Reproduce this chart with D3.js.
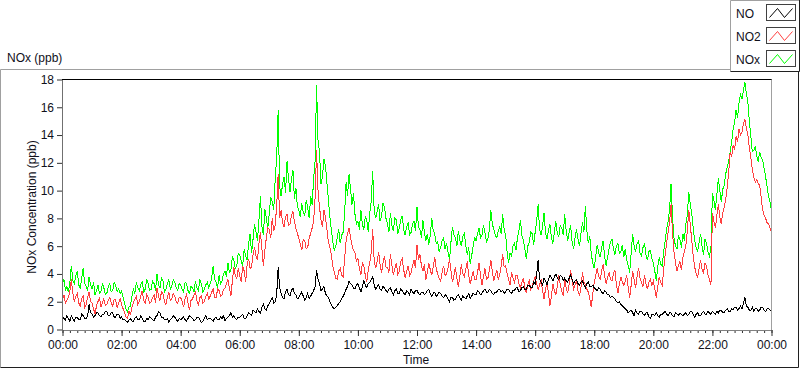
<!DOCTYPE html>
<html><head><meta charset="utf-8">
<script src="https://cdn.jsdelivr.net/npm/d3@7/dist/d3.min.js"></script>
<style>
body{margin:0;background:#fff;}
text{font-family:"Liberation Sans",Arial,sans-serif;}
</style>
</head><body>
<svg id="chart" width="800" height="369"></svg>
<script>
// ---- data (3-minute samples, 00:00 .. 24:00; one row per hour) ----
const sampleMinutes = 3;
const seriesNames = ["NO", "NO2", "NOx"];
const NO = [
0.9,0.8,0.7,1.0,0.8,0.6,1.0,0.8,0.6,0.9,0.9,0.7,0.7,1.1,1.0,0.8,0.8,1.0,1.8,1.2,
1.1,0.9,1.0,1.2,1.2,1.0,0.9,1.1,1.1,1.3,1.3,1.0,1.0,1.2,1.2,0.9,0.9,1.1,1.1,0.8,
0.9,0.7,0.7,0.6,0.5,0.7,0.8,0.6,0.6,0.8,0.9,0.7,0.7,1.0,0.8,0.6,0.6,0.8,0.7,0.9,
0.8,0.7,0.6,0.9,1.0,1.3,1.2,0.9,0.9,0.7,0.7,0.8,0.5,0.7,0.8,1.0,0.9,0.7,0.6,0.8,
0.7,0.8,0.9,0.7,0.6,0.8,1.0,0.9,0.8,0.6,0.7,0.9,0.9,0.7,0.5,0.6,0.8,1.0,0.7,0.8,
0.8,0.7,0.6,0.8,0.9,0.7,0.7,0.9,0.8,1.0,0.6,0.8,0.9,1.0,1.2,0.9,1.0,0.8,0.7,0.9,
0.9,1.0,1.1,0.8,0.8,1.0,1.2,1.1,1.0,1.4,1.3,1.2,1.5,1.3,1.2,1.6,1.8,1.5,1.4,1.7,
1.9,2.1,2.3,1.9,2.0,2.5,4.5,3.0,2.6,2.3,2.2,2.7,2.9,2.5,2.4,2.8,3.0,2.6,2.5,2.2,
2.3,2.5,2.7,2.4,2.1,2.3,2.6,2.2,2.4,2.6,2.8,3.1,4.3,3.6,3.3,2.8,2.9,3.1,2.6,2.4,
2.3,2.0,1.8,1.6,1.5,1.6,1.7,1.9,2.0,2.2,2.4,2.6,2.9,3.1,3.5,3.3,3.2,3.0,2.9,3.2,
3.3,3.0,2.7,3.1,3.5,3.2,3.0,3.3,3.4,3.6,3.8,3.2,2.9,3.1,3.2,2.9,2.8,3.1,3.0,2.8,
2.7,2.9,3.0,2.7,2.5,2.8,2.9,2.6,2.6,2.9,2.8,2.6,2.5,2.8,2.7,2.5,2.9,2.7,2.6,2.8,
2.8,2.6,2.5,2.7,2.7,2.5,2.6,2.8,2.9,2.6,2.4,2.6,2.7,2.4,2.5,2.7,2.6,2.4,2.3,2.5,
2.4,2.2,2.0,2.3,2.3,2.1,2.2,2.4,2.5,2.3,2.1,2.4,2.3,2.2,2.4,2.6,2.2,2.4,2.6,2.5,
2.5,2.8,2.7,2.5,2.6,2.8,2.9,2.7,2.7,2.9,2.8,2.6,2.5,2.7,2.7,2.9,2.9,2.7,2.8,2.6,
2.7,2.9,2.9,2.7,2.6,2.8,2.8,3.0,3.0,2.7,2.8,3.0,3.1,2.9,2.9,3.2,3.2,3.0,3.0,3.4,
3.3,3.9,5.0,3.6,3.4,3.2,3.7,3.5,3.2,3.6,3.9,3.7,3.5,3.8,4.0,3.7,3.6,3.9,3.8,3.5,
3.7,3.5,3.4,3.7,3.9,3.6,3.3,3.5,3.6,3.3,3.2,3.4,3.5,3.2,3.0,3.3,3.4,3.1,3.1,3.2,
3.0,2.9,2.8,3.0,2.9,2.7,2.6,2.8,2.7,2.5,2.5,2.3,2.4,2.3,2.2,2.0,1.9,2.0,1.8,1.7,
1.6,1.5,1.4,1.2,1.3,1.4,1.2,1.0,1.4,1.2,1.1,1.3,1.3,1.1,1.0,1.2,1.2,0.9,0.8,1.1,
1.1,1.0,1.2,1.0,0.9,1.1,1.1,1.2,1.3,1.1,1.0,1.2,1.2,1.0,0.9,1.2,1.1,1.0,1.2,1.1,
1.0,1.1,1.2,1.0,1.1,1.3,1.3,1.1,0.9,1.1,1.2,1.0,1.0,1.2,1.3,1.1,1.1,1.3,1.2,1.1,
1.3,1.2,1.1,1.3,1.2,1.4,1.4,1.2,1.2,1.4,1.5,1.3,1.3,1.5,1.4,1.6,1.6,1.4,1.5,1.7,
1.5,1.9,2.3,1.7,1.6,1.4,1.4,1.6,1.3,1.5,1.5,1.3,1.4,1.6,1.6,1.4,1.3,1.5,1.5,1.4,
1.4];
const NO2 = [
2.2,2.5,1.9,2.1,2.3,2.8,3.6,2.6,2.0,2.4,2.6,1.9,1.7,2.2,2.4,1.6,1.8,2.3,2.7,2.0,
1.9,1.5,1.1,1.7,2.0,2.3,1.6,1.9,2.2,1.7,1.8,2.1,2.3,1.9,1.7,2.2,2.1,1.6,1.9,2.2,
1.8,1.5,1.2,0.9,0.8,1.3,1.1,1.6,1.9,2.2,2.4,1.8,2.0,2.4,2.8,2.1,1.9,2.5,2.3,1.9,
2.0,2.3,2.5,1.9,3.0,2.4,2.1,2.7,2.6,2.0,1.8,2.3,2.7,2.1,2.2,2.6,2.4,2.0,1.9,2.3,
2.3,2.0,1.6,2.2,2.5,1.9,1.4,2.1,2.2,2.5,2.7,2.1,1.8,2.3,2.4,1.9,2.0,2.4,2.6,2.2,
2.4,2.7,2.9,2.3,2.3,2.9,2.8,2.4,2.5,2.9,3.0,3.3,3.6,3.0,2.4,3.5,4.5,3.9,3.7,4.4,
3.9,3.4,4.6,4.2,3.4,4.7,5.1,4.4,4.5,5.4,5.9,5.3,5.0,6.2,7.0,5.8,4.6,5.7,6.6,7.3,
7.2,6.6,8.0,7.1,7.5,8.9,11.2,8.0,8.6,7.7,7.4,8.1,8.3,7.5,7.6,8.2,8.5,7.8,7.3,6.9,
6.6,6.1,5.7,6.5,6.4,5.8,5.9,6.6,6.9,7.3,7.8,9.5,12.9,10.0,8.8,7.9,7.4,8.6,8.1,7.2,
6.3,5.9,5.4,4.6,4.1,3.7,3.6,4.2,4.4,3.9,3.8,5.1,6.4,6.9,7.3,6.6,6.1,5.7,5.5,4.9,
5.1,4.4,3.9,4.8,4.6,3.9,3.4,4.3,4.8,5.5,7.2,5.0,4.4,4.9,5.6,4.7,4.1,4.8,5.3,4.5,
4.5,4.1,5.4,4.6,3.9,4.4,4.8,4.0,4.2,4.9,5.1,4.3,3.7,4.2,4.6,3.9,4.1,4.6,5.0,4.4,
6.1,5.0,5.4,4.6,4.2,4.7,3.6,4.1,4.8,4.3,3.9,4.5,5.2,4.4,4.0,3.7,3.5,4.1,4.6,3.9,
4.0,4.4,5.1,4.2,3.4,3.9,4.5,3.7,3.1,3.8,4.7,4.0,3.8,4.3,4.9,3.9,3.3,3.7,4.2,3.6,
3.6,4.1,4.8,3.9,3.2,3.8,4.4,3.6,3.7,4.3,5.0,4.2,3.5,3.9,4.3,3.6,3.9,4.6,5.4,4.5,
4.6,4.0,3.6,3.2,4.1,3.7,3.4,3.9,3.9,3.3,3.0,3.4,3.7,3.0,2.6,3.2,3.5,2.9,3.1,3.5,
3.8,3.3,2.9,3.2,3.6,2.8,2.2,2.9,3.4,2.6,1.7,2.4,3.3,2.8,2.5,3.1,3.9,3.2,2.8,2.4,
3.6,3.0,2.6,3.3,4.3,3.5,2.9,3.2,3.5,2.8,2.4,3.0,4.1,3.4,3.2,2.9,2.7,2.2,1.6,2.6,
3.4,3.9,4.4,3.8,3.6,4.2,4.7,3.9,3.3,3.7,4.1,3.6,3.5,4.0,4.3,3.2,2.6,3.3,3.8,3.4,
3.2,3.5,3.9,3.0,2.3,3.2,4.2,3.6,3.0,3.8,4.4,3.7,3.4,3.1,3.9,3.3,2.9,3.4,3.6,3.2,
3.5,2.9,2.3,3.1,3.8,3.4,3.2,4.3,5.4,6.2,7.0,7.7,9.0,6.9,5.6,4.8,4.2,4.6,4.9,4.3,
5.2,5.6,6.0,7.1,8.6,7.6,6.4,5.3,4.5,4.0,3.8,4.4,5.0,4.3,4.1,4.8,4.6,3.9,3.6,3.2,
8.4,7.8,7.3,8.2,9.0,8.1,7.6,8.4,8.8,9.4,10.2,11.3,12.8,12.4,13.3,12.9,13.9,13.5,14.4,14.0,
14.2,14.8,15.1,14.5,14.0,13.1,12.4,11.5,11.0,10.6,10.8,10.5,10.4,9.5,8.6,8.2,8.0,7.7,7.6,7.3,
7.0];
const NOx = [
3.3,3.6,2.8,3.1,2.7,3.4,4.6,3.5,3.3,3.9,4.2,3.2,3.0,3.7,4.4,3.3,3.1,2.8,3.8,3.2,
2.9,3.4,2.5,2.8,3.2,2.6,2.7,3.3,3.0,2.5,2.6,3.1,3.3,2.7,2.8,3.4,3.2,2.7,2.9,2.6,
2.8,2.3,1.9,1.5,1.3,1.6,1.7,2.4,2.9,2.6,3.4,3.0,2.8,3.2,3.5,2.7,2.9,3.6,3.3,2.8,
2.9,3.5,3.3,2.8,4.0,3.2,3.0,3.7,3.5,2.7,2.9,3.3,3.6,2.9,3.1,3.6,3.4,3.0,2.8,3.3,
3.2,2.9,2.7,3.4,3.3,2.8,2.6,3.1,3.0,2.7,3.5,3.0,2.8,3.6,3.3,2.7,2.9,3.2,3.4,3.0,
3.3,3.7,4.6,3.6,3.4,3.0,3.9,3.3,3.5,4.0,4.2,3.8,4.8,4.1,4.3,5.2,5.0,4.4,4.6,5.5,
5.4,4.9,4.6,5.8,5.3,5.0,6.2,6.9,5.5,6.5,7.6,7.0,6.4,7.9,9.6,7.4,6.8,8.7,8.0,7.3,
8.4,9.5,9.2,8.6,10.8,12.4,15.8,10.3,9.6,10.5,11.0,9.8,12.1,10.9,9.9,10.8,11.5,9.4,10.2,8.9,
8.6,8.1,9.1,8.4,8.2,9.3,8.8,8.0,9.6,9.0,10.8,12.1,17.6,13.6,12.8,10.5,11.0,12.3,11.8,10.6,
9.4,8.1,7.2,6.3,5.7,6.0,6.6,7.2,6.2,6.8,7.0,8.4,10.6,9.6,11.2,10.1,9.0,9.8,8.3,7.6,
7.8,7.2,8.6,7.6,7.2,8.1,7.9,7.0,8.4,9.2,11.4,8.6,8.0,8.5,9.0,7.8,8.2,9.1,8.8,8.0,
7.6,7.0,8.4,7.5,7.1,8.0,7.9,6.9,7.3,7.9,8.2,7.2,6.8,7.4,7.7,6.8,7.0,7.6,7.8,7.1,
8.8,7.4,7.2,6.6,7.9,7.0,6.4,6.9,6.1,6.8,8.0,7.1,6.9,6.2,6.3,5.6,5.9,6.4,6.6,5.8,
6.2,5.6,5.0,6.3,7.4,6.8,6.6,6.0,7.1,6.4,6.0,6.7,6.9,6.1,5.4,5.9,4.7,5.3,6.0,6.6,
6.4,6.9,7.3,6.6,6.8,7.5,7.0,6.3,6.5,7.2,8.6,7.6,7.2,6.8,6.6,7.1,7.4,6.9,8.3,7.2,
6.8,5.6,4.8,5.5,5.3,6.0,6.2,5.7,6.6,7.1,7.9,6.8,6.4,5.8,5.1,6.0,6.3,7.0,6.9,6.1,
7.0,7.8,9.0,7.2,6.8,7.4,8.4,7.0,6.5,7.1,7.6,6.6,6.2,7.0,7.8,6.9,6.7,7.5,7.3,6.8,
8.3,7.1,6.4,7.0,7.5,6.3,5.8,6.6,7.2,6.5,6.0,6.9,7.7,7.0,8.9,7.1,6.2,6.7,5.4,4.8,
4.4,5.3,6.1,5.5,5.2,5.9,6.4,5.3,4.6,5.2,5.8,6.3,6.5,5.8,5.4,6.0,6.2,5.5,5.6,6.1,
5.2,5.8,5.0,4.6,4.1,5.5,6.9,6.0,5.6,6.2,6.4,5.5,5.3,5.9,6.2,5.4,5.0,5.6,5.7,5.1,
4.8,4.2,3.5,4.5,5.2,4.7,4.6,5.6,6.4,7.2,7.8,8.6,10.5,8.1,6.6,6.0,5.8,6.8,6.5,5.9,
6.9,6.4,7.6,8.2,9.9,9.0,8.4,7.3,6.4,5.9,5.6,6.3,6.9,6.0,5.4,6.5,6.2,5.6,5.3,5.8,
9.8,9.3,8.6,9.7,10.9,10.0,9.2,10.1,10.4,11.2,11.7,12.1,12.8,13.5,14.4,14.9,15.8,15.2,16.3,16.9,
16.6,17.2,17.8,17.0,16.4,15.0,13.9,12.8,12.9,13.2,12.5,12.1,12.8,12.4,12.2,11.6,11.0,10.3,9.6,9.2,
8.5];
const yTickValues = [0, 2, 4, 6, 8, 10, 12, 14, 16, 18];
const xTickLabels = ["00:00","02:00","04:00","06:00","08:00","10:00","12:00","14:00","16:00","18:00","20:00","22:00","00:00"];
const seriesColors = {NO: "#000000", NO2: "#ff4040", NOx: "#00ff00"};

// ---- drawing ----
const svg = d3.select("#chart");
const x = d3.scaleLinear().domain([0, 1440]).range([62.5, 771.5]);
const y = d3.scaleLinear().domain([0, 18]).range([329.5, 79.5]);
const txt = "#10101a";

// outer frame (3D style)
svg.append("path").attr("d", "M0.5,367.5 V69.5 H731").attr("fill", "none").attr("stroke", "#a0a0a0");
svg.append("path").attr("d", "M0.5,367.5 H798.5 V71.5").attr("fill", "none").attr("stroke", "#202020");

// legend box
const lg = svg.append("g");
lg.append("rect").attr("x", 730.5).attr("y", 0.5).attr("width", 68).attr("height", 71).attr("fill", "#fff").attr("stroke", "none");
lg.append("path").attr("d", "M730.5,71.5 V0.5 H799").attr("fill", "none").attr("stroke", "#a0a0a0");
lg.append("path").attr("d", "M730.5,71.5 H799.5 V0").attr("fill", "none").attr("stroke", "#202020");
seriesNames.forEach((name, i) => {
  const top = 4.5 + i * 23;
  lg.append("text").attr("x", 736).attr("y", top + 13.5).attr("font-size", "12px").attr("fill", txt).text(name);
  lg.append("rect").attr("x", 766.5).attr("y", top).attr("width", 29).attr("height", 16)
    .attr("fill", "#fff").attr("stroke", "#404040");
  const bx = 766.5, by = top;
  lg.append("path").attr("d", `M${bx+3},${by+13} L${bx+11},${by+4} L${bx+18},${by+13} L${bx+26},${by+4}`)
    .attr("fill", "none").attr("stroke", seriesColors[name]).attr("stroke-width", 1);
});

// chart title label
svg.append("text").attr("x", 7).attr("y", 62).attr("font-size", "12px").attr("fill", txt).text("NOx (ppb)");

// plot background
svg.append("rect").attr("x", 62.5).attr("y", 79.5).attr("width", 709).attr("height", 250).attr("fill", "#fff");

// series lines
const line = d3.line().x((d, i) => x(i * sampleMinutes)).y(d => y(d));
const dataByName = {NO: NO, NO2: NO2, NOx: NOx};
["NOx", "NO2", "NO"].forEach(name => {
  svg.append("path").datum(dataByName[name]).attr("d", line)
    .attr("fill", "none").attr("stroke", seriesColors[name]).attr("stroke-width", 1)
    .attr("shape-rendering", "crispEdges");
});

// plot frame: top black, right grey
svg.append("line").attr("x1", 62).attr("x2", 772).attr("y1", 79.5).attr("y2", 79.5).attr("stroke", "#000");
svg.append("line").attr("x1", 771.5).attr("x2", 771.5).attr("y1", 79.5).attr("y2", 330).attr("stroke", "#a0a0a0");

// y axis
const yAxis = svg.append("g").attr("transform", "translate(62,0)")
  .call(d3.axisLeft(y).tickValues(yTickValues).tickSize(5).tickSizeOuter(0).tickPadding(3));
yAxis.select(".domain").attr("stroke", "#707070");
yAxis.selectAll(".tick line").attr("stroke", "#303030");
yAxis.selectAll("text").attr("font-size", "12px").attr("fill", txt).attr("font-family", "Liberation Sans, Arial, sans-serif");

// x axis minor ticks
const xMinor = svg.append("g").attr("transform", "translate(0,330)")
  .call(d3.axisBottom(x).tickValues(d3.range(0, 1441, 15)).tickSize(3).tickFormat(""));
xMinor.select(".domain").remove();
xMinor.selectAll(".tick line").attr("stroke", "#303030");
// x axis major
const xAxis = svg.append("g").attr("transform", "translate(0,330)")
  .call(d3.axisBottom(x).tickValues(d3.range(0, 1441, 120)).tickSize(6).tickSizeOuter(0).tickPadding(4)
    .tickFormat((d, i) => xTickLabels[i]));
xAxis.select(".domain").attr("stroke", "#808080");
xAxis.selectAll(".tick line").attr("stroke", "#303030");
xAxis.selectAll("text").attr("font-size", "12px").attr("fill", txt).attr("font-family", "Liberation Sans, Arial, sans-serif");

// axis titles
svg.append("text").attr("x", 416).attr("y", 364).attr("text-anchor", "middle").attr("font-size", "12px").attr("fill", txt).text("Time");
svg.append("text").attr("transform", "translate(36,207) rotate(-90)").attr("text-anchor", "middle")
  .attr("font-size", "12px").attr("fill", txt).text("NOx Concentration (ppb)");
</script>
</body></html>
